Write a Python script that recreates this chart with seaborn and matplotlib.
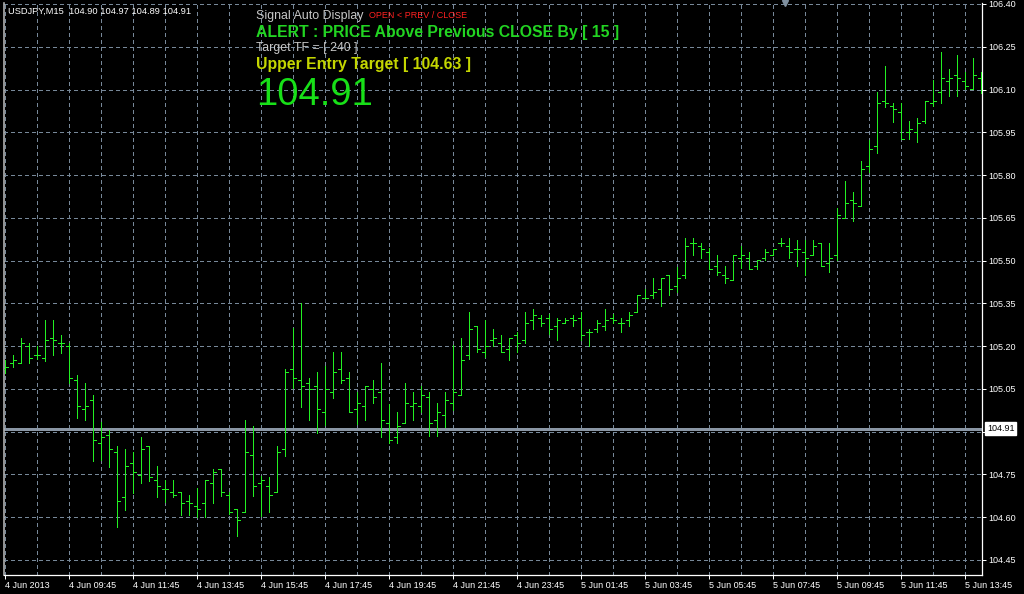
import numpy as np
import pandas as pd
import seaborn as sns
import matplotlib.pyplot as plt
from matplotlib import transforms

# USDJPY M15 bars, 4 Jun 07:45 -> 5 Jun 14:15
opens = [105.120, 105.140, 105.140, 105.200, 105.168, 105.157, 105.228, 105.210, 105.200, 105.080,
         104.979, 105.010, 104.859, 104.888, 104.828, 104.670, 104.789, 104.748, 104.850, 104.730,
         104.698, 104.687, 104.687, 104.658, 104.638, 104.649, 104.719, 104.769, 104.677, 104.629,
         104.617, 104.817, 104.719, 104.708, 104.687, 104.838, 105.119, 105.081, 105.070, 105.059,
         104.968, 105.038, 105.119, 105.087, 104.978, 104.989, 105.048, 105.038, 104.929, 104.880,
         104.929, 104.989, 104.989, 105.020, 104.940, 104.957, 104.999, 105.027, 105.168, 105.269,
         105.178, 105.220, 105.210, 105.189, 105.238, 105.220, 105.290, 105.297, 105.297, 105.269,
         105.280, 105.297, 105.297, 105.248, 105.259, 105.269, 105.297, 105.280, 105.292, 105.318,
         105.368, 105.378, 105.399, 105.448, 105.410, 105.448, 105.561, 105.550, 105.529, 105.480,
         105.448, 105.431, 105.508, 105.508, 105.480, 105.508, 105.518, 105.561, 105.550, 105.540,
         105.529, 105.518, 105.561, 105.490, 105.518, 105.648, 105.711, 105.691, 105.831, 105.901,
         106.059, 106.041, 106.021, 105.951, 105.951, 105.991, 106.053, 106.090, 106.129, 106.150,
         106.129, 106.101, 106.139]
highs = [105.152, 105.169, 105.228, 105.210, 105.200, 105.292, 105.292, 105.239, 105.210, 105.099,
         105.071, 105.028, 104.933, 104.906, 104.850, 104.839, 104.828, 104.881, 104.850, 104.780,
         104.731, 104.731, 104.687, 104.678, 104.701, 104.730, 104.769, 104.769, 104.687, 104.629,
         104.941, 104.920, 104.746, 104.740, 104.850, 105.119, 105.262, 105.350, 105.087, 105.108,
         105.129, 105.179, 105.179, 105.108, 105.038, 105.059, 105.081, 105.140, 104.996, 104.968,
         105.069, 105.038, 105.059, 105.038, 104.999, 105.038, 105.204, 105.227, 105.318, 105.269,
         105.290, 105.259, 105.238, 105.227, 105.248, 105.318, 105.329, 105.308, 105.311, 105.297,
         105.297, 105.308, 105.318, 105.259, 105.290, 105.330, 105.311, 105.297, 105.318, 105.378,
         105.399, 105.438, 105.438, 105.448, 105.479, 105.578, 105.578, 105.561, 105.543, 105.518,
         105.480, 105.518, 105.550, 105.529, 105.501, 105.540, 105.540, 105.578, 105.578, 105.571,
         105.571, 105.571, 105.561, 105.561, 105.683, 105.779, 105.741, 105.849, 105.923, 106.090,
         106.182, 106.053, 106.053, 105.991, 106.000, 106.059, 106.132, 106.232, 106.172, 106.221,
         106.160, 106.211, 106.160]
lows = [105.107, 105.128, 105.140, 105.140, 105.154, 105.149, 105.167, 105.177, 105.072, 104.949,
        104.939, 104.798, 104.801, 104.777, 104.567, 104.625, 104.686, 104.718, 104.728, 104.669,
        104.652, 104.670, 104.606, 104.606, 104.599, 104.599, 104.649, 104.675, 104.611, 104.535,
        104.617, 104.675, 104.605, 104.617, 104.687, 104.816, 105.052, 104.988, 104.939, 104.896,
        104.924, 105.019, 105.069, 104.968, 104.926, 104.939, 104.999, 104.880, 104.859, 104.859,
        104.929, 104.939, 104.968, 104.886, 104.886, 104.917, 104.976, 105.027, 105.155, 105.178,
        105.161, 105.199, 105.178, 105.150, 105.178, 105.210, 105.259, 105.269, 105.241, 105.220,
        105.280, 105.269, 105.220, 105.199, 105.248, 105.258, 105.280, 105.248, 105.269, 105.318,
        105.368, 105.368, 105.340, 105.378, 105.391, 105.438, 105.518, 105.508, 105.469, 105.448,
        105.420, 105.431, 105.473, 105.469, 105.469, 105.501, 105.518, 105.550, 105.508, 105.480,
        105.448, 105.518, 105.480, 105.459, 105.501, 105.648, 105.640, 105.691, 105.809, 105.878,
        106.040, 105.987, 105.928, 105.928, 105.917, 105.981, 106.041, 106.052, 106.078, 106.078,
        106.101, 106.101, 106.089]
closes = [105.128, 105.150, 105.210, 105.157, 105.168, 105.221, 105.221, 105.210, 105.087, 104.989,
          104.989, 104.870, 104.880, 104.838, 104.658, 104.780, 104.758, 104.838, 104.740, 104.710,
          104.698, 104.678, 104.650, 104.650, 104.627, 104.730, 104.757, 104.687, 104.617, 104.590,
          104.827, 104.708, 104.730, 104.677, 104.827, 105.108, 105.087, 105.059, 105.048, 104.979,
          105.048, 105.108, 105.081, 104.968, 104.999, 105.059, 105.020, 104.940, 104.869, 104.919,
          104.999, 104.999, 105.027, 104.929, 104.968, 105.010, 105.038, 105.150, 105.259, 105.189,
          105.199, 105.227, 105.178, 105.227, 105.210, 105.280, 105.308, 105.280, 105.259, 105.290,
          105.290, 105.290, 105.238, 105.248, 105.280, 105.292, 105.292, 105.280, 105.308, 105.378,
          105.368, 105.389, 105.438, 105.399, 105.438, 105.550, 105.561, 105.540, 105.469, 105.459,
          105.438, 105.518, 105.518, 105.469, 105.501, 105.529, 105.540, 105.561, 105.529, 105.540,
          105.508, 105.550, 105.480, 105.508, 105.660, 105.701, 105.701, 105.821, 105.891, 106.053,
          106.053, 106.030, 105.928, 105.960, 105.981, 106.059, 106.059, 106.139, 106.139, 106.139,
          106.111, 106.150, 106.120]

time_labels = ['4 Jun 2013', '4 Jun 09:45', '4 Jun 11:45', '4 Jun 13:45', '4 Jun 15:45',
               '4 Jun 17:45', '4 Jun 19:45', '4 Jun 21:45', '4 Jun 23:45', '5 Jun 01:45',
               '5 Jun 03:45', '5 Jun 05:45', '5 Jun 07:45', '5 Jun 09:45', '5 Jun 11:45',
               '5 Jun 13:45']
price_ticks = [104.45, 104.60, 104.75, 104.90, 105.05, 105.20, 105.35, 105.50,
               105.65, 105.80, 105.95, 106.10, 106.25, 106.40]
last_price = 104.91

BG = '#000000'
GRID = '#778899'
BAR = '#22f022'

sns.set_style('dark', rc={'axes.facecolor': BG, 'figure.facecolor': BG})
plt.rcParams['font.family'] = ['Liberation Sans', 'DejaVu Sans']

# one row per line segment: high-low stick, open tick (left), close tick (right)
rows = []
for i in range(len(opens)):
    rows += [(3 * i, i, lows[i]), (3 * i, i, highs[i]),
             (3 * i + 1, i - 0.4, opens[i]), (3 * i + 1, i, opens[i]),
             (3 * i + 2, i, closes[i]), (3 * i + 2, i + 0.4, closes[i])]
seg = pd.DataFrame(rows, columns=['seg', 'x', 'y'])

fig = plt.figure(figsize=(10.24, 5.94), dpi=100)
ax = fig.add_axes([4 / 1024, 19 / 594, 978 / 1024, 572 / 594])
ax.set_facecolor(BG)

sns.lineplot(data=seg, x='x', y='y', units='seg', estimator=None, sort=False,
             color=BAR, lw=0.72, antialiased=False, legend=False, ax=ax, zorder=3)

ax.set_xlim(-0.125, 122.125)
ax.set_ylim(104.397, 106.4035)

# grid: dashed every hour / every 0.15
ax.set_xticks(range(0, 121, 8))
ax.set_xticks(range(4, 121, 8), minor=True)
ax.set_xticklabels(time_labels, ha='left')
ax.set_yticks(price_ticks)
# the 104.90 label sits under the last-price box
ax.set_yticklabels(['' if abs(p - 104.90) < 1e-6 else f'{p:.2f}' for p in price_ticks])
ax.yaxis.tick_right()
ax.grid(True, which='both', color=GRID, lw=0.72, ls=(0, (3, 3)), antialiased=False)
ax.tick_params(axis='x', which='major', colors='white', labelcolor='white', labelsize=6.5,
               length=3, width=0.72, pad=1.5, direction='out', bottom=True)
ax.tick_params(axis='x', which='minor', length=0)
ax.tick_params(axis='y', colors='white', labelcolor='white', labelsize=6.5,
               length=3, width=0.72, pad=1.5, direction='out', right=True, left=False)
ax.set_xlabel('')
ax.set_ylabel('')
for side in ['bottom', 'right']:
    ax.spines[side].set_color('white')
    ax.spines[side].set_linewidth(0.9)
ax.spines['top'].set_visible(False)
ax.spines['left'].set_color('#b0b0b0')
ax.spines['left'].set_linewidth(1.2)

# current price line and its label
ax.axhline(last_price, color='#8a96a4', lw=0.9, antialiased=False, zorder=2)
tr = transforms.blended_transform_factory(fig.transFigure, ax.transData)
fig.text(987 / 1024, last_price, f'{last_price:.2f}', transform=tr, color='black',
         fontsize=6.5, ha='left', va='center',
         bbox=dict(boxstyle='square,pad=0.22', fc='white', ec='white'))

# chart shift marker
ax.plot([97.5], [106.4035], marker='v', ms=5, color='#8090a0', clip_on=False, zorder=5)


def ftext(x, y, s, **kw):
    fig.text(x / 1024, 1 - y / 594, s, va='center', ha='left', **kw)


ftext(8, 11, 'USDJPY,M15  104.90 104.97 104.89 104.91', color='white', fontsize=6.7)
ftext(256, 15.5, 'Signal Auto Display', color='#c8c8c8', fontsize=8.9)
ftext(369, 16, 'OPEN < PREV / CLOSE', color='#ff2020', fontsize=6.5)
ftext(256, 32, 'ALERT : PRICE Above Previous CLOSE By [ 15 ]', color='#22d422',
      fontsize=11.4, fontweight='bold')
ftext(256, 48, 'Target TF = [ 240 ]', color='#c8c8c8', fontsize=8.9)
ftext(256, 64, 'Upper Entry Target [ 104.63 ]', color='#c4d600', fontsize=11.4,
      fontweight='bold')
ftext(256, 95, '104.91', color='#18e018', fontsize=27.5)

fig.savefig('out.png', dpi=100, facecolor=BG)
